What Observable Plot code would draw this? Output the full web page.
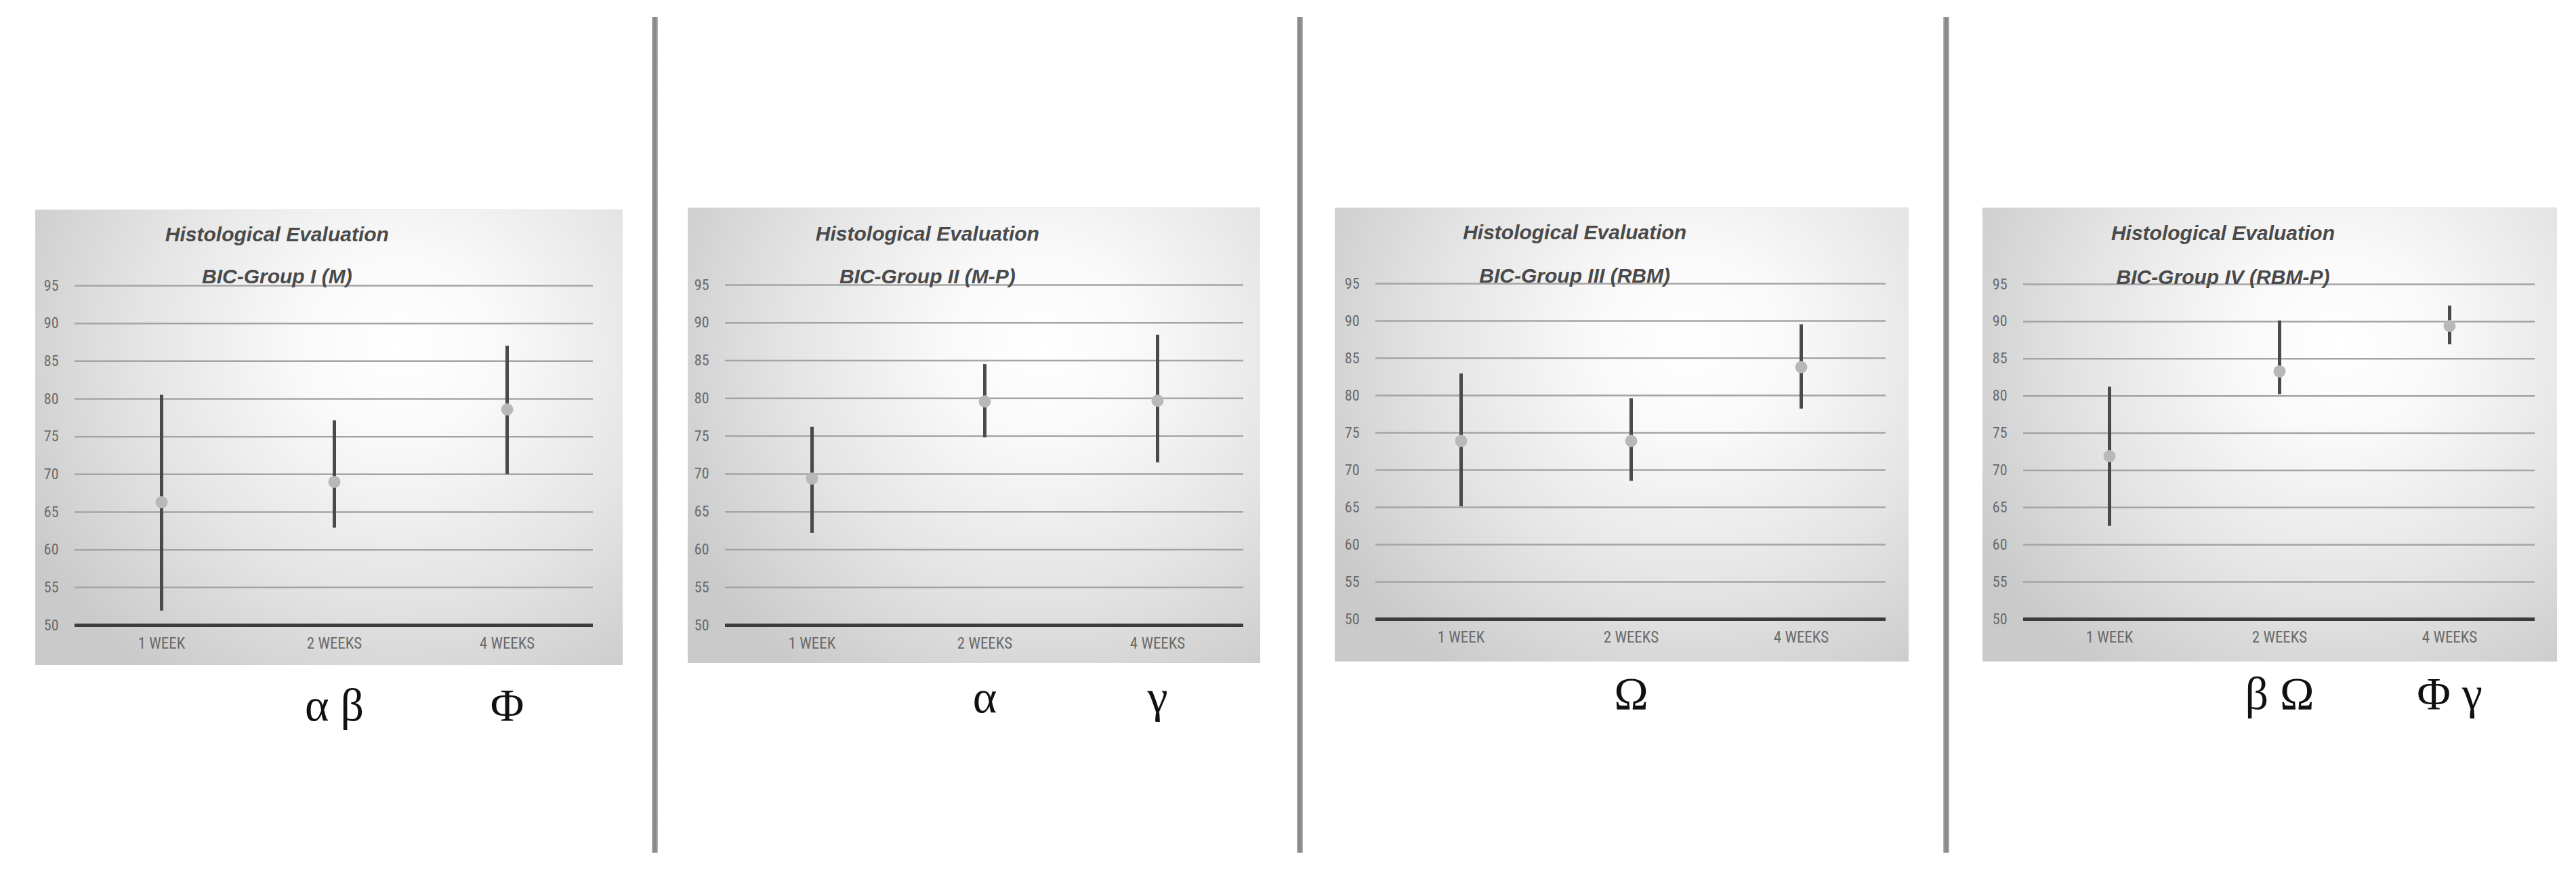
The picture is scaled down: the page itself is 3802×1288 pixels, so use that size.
<!DOCTYPE html>
<html><head><meta charset="utf-8">
<script src="https://cdn.jsdelivr.net/npm/d3@7"></script>
<script src="https://cdn.jsdelivr.net/npm/@observablehq/plot@0.6"></script>
<style>
html,body{margin:0;padding:0;background:#fff;width:3802px;height:1288px;overflow:hidden;position:relative}
.panel{position:absolute}
.box{position:absolute;left:0;top:0;background:radial-gradient(ellipse 72% 88% at 62% 30%, #ffffff 0%, #f9f9f9 24%, #e4e4e4 62%, #cacaca 100%);border-top:1px solid #e6e6e6}
.panel svg{position:absolute;left:0;top:0;overflow:visible}
.sep{position:absolute;top:25px;height:1233px;width:9px;background:linear-gradient(to right,#bdbdbd,#8a8a8a 30%,#8a8a8a 70%,#bdbdbd)}
</style></head><body>
<script>
// ---- data ----
const weeks = ["1 WEEK", "2 WEEKS", "4 WEEKS"];
const yTicks = [50, 55, 60, 65, 70, 75, 80, 85, 90, 95];
const chartTitle = "Histological Evaluation";
const groupNames = ["BIC-Group I (M)", "BIC-Group II (M-P)", "BIC-Group III (RBM)", "BIC-Group IV (RBM-P)"];

const g1Mean = [66.3, 69.0, 78.6];
const g1Low  = [51.9, 62.9, 70.0];
const g1High = [80.5, 77.1, 87.0];
const g1Sig  = ["", "α β", "Φ"];

const g2Mean = [69.4, 79.6, 79.7];
const g2Low  = [62.2, 74.8, 71.5];
const g2High = [76.2, 84.5, 88.4];
const g2Sig  = ["", "α", "γ"];

const g3Mean = [73.9, 73.9, 83.8];
const g3Low  = [65.1, 68.5, 78.2];
const g3High = [82.9, 79.6, 89.5];
const g3Sig  = ["", "Ω", ""];

const g4Mean = [71.9, 83.3, 89.4];
const g4Low  = [62.5, 80.2, 86.9];
const g4High = [81.2, 90.1, 92.1];
const g4Sig  = ["", "β Ω", "Φ γ"];

// ---- layout ----
const panels = [
  {name: groupNames[0], mean: g1Mean, low: g1Low, high: g1High, sig: g1Sig,
   left: 52, top: 309, width: 867, boxH: 671, mt: 112, plotBottom: 613, ml: 58, mr: 44, greekDy: 140, subDy: -4},
  {name: groupNames[1], mean: g2Mean, low: g2Low, high: g2High, sig: g2Sig,
   left: 1015, top: 306, width: 845, boxH: 671, mt: 114, plotBottom: 616, ml: 55, mr: 25, greekDy: 128, subDy: -3},
  {name: groupNames[2], mean: g3Mean, low: g3Low, high: g3High, sig: g3Sig,
   left: 1970, top: 306, width: 847, boxH: 669, mt: 112, plotBottom: 607, ml: 60, mr: 34, greekDy: 132, subDy: -2},
  {name: groupNames[3], mean: g4Mean, low: g4Low, high: g4High, sig: g4Sig,
   left: 2926, top: 306, width: 848, boxH: 669, mt: 113, plotBottom: 607, ml: 60, mr: 33, greekDy: 132, subDy: -1}
];
const separators = [966, 1918, 2872];
const H = 790;
const axisFont = "'Liberation Sans Narrow', 'Roboto Condensed', Roboto, sans-serif";

function chart(p) {
  const rows = weeks.map((w, i) => ({week: w, mean: p.mean[i], low: p.low[i], high: p.high[i], sig: p.sig[i]}));
  const plotW = p.width - p.ml - p.mr;
  const titleDx = -0.11 * plotW;
  return Plot.plot({
    width: p.width, height: H,
    marginTop: p.mt, marginBottom: H - p.plotBottom, marginLeft: p.ml, marginRight: p.mr,
    style: {background: "transparent", overflow: "visible"},
    x: {type: "point", domain: weeks, padding: 0.5},
    y: {domain: [50, 95]},
    marks: [
      Plot.ruleY(yTicks.filter(d => d > 50), {stroke: "#a4a4a4", strokeWidth: 2.5}),
      Plot.ruleY([50], {stroke: "#3c3c3c", strokeWidth: 5}),
      Plot.axisY({ticks: yTicks, tickSize: 0, tickPadding: 24, fontSize: 22, fontFamily: axisFont, color: "#6a6a6a", label: null}),
      Plot.axisX({tickSize: 0, tickPadding: 18, fontSize: 23, fontFamily: axisFont, color: "#6a6a6a", label: null}),
      Plot.ruleX(rows, {x: "week", y1: "low", y2: "high", stroke: "#4a4a4a", strokeWidth: 5}),
      Plot.dot(rows, {x: "week", y: "mean", r: 9, fill: "#b8b8b8", stroke: "none"}),
      Plot.text([chartTitle], {frameAnchor: "top", dx: titleDx, dy: -66, lineAnchor: "bottom",
        fontSize: 30, fontWeight: "bold", fontStyle: "italic", fontFamily: "'Liberation Sans', Arial, sans-serif", fill: "#4a4a4a"}),
      Plot.text([p.name], {frameAnchor: "top", dx: titleDx, dy: p.subDy, lineAnchor: "bottom",
        fontSize: 30, fontWeight: "bold", fontStyle: "italic", fontFamily: "'Liberation Sans', Arial, sans-serif", fill: "#4a4a4a"}),
      Plot.text(rows.filter(r => r.sig), {x: "week", text: "sig", frameAnchor: "bottom", dy: p.greekDy, lineAnchor: "bottom",
        fontSize: 68, fontFamily: "'Liberation Serif', 'DejaVu Serif', serif", fill: "#111"})
    ]
  });
}

for (const p of panels) {
  const div = document.createElement("div");
  div.className = "panel";
  div.style.left = p.left + "px";
  div.style.top = p.top + "px";
  div.style.width = p.width + "px";
  div.style.height = H + "px";
  const box = document.createElement("div");
  box.className = "box";
  box.style.width = p.width + "px";
  box.style.height = p.boxH + "px";
  div.appendChild(box);
  div.appendChild(chart(p));
  document.body.appendChild(div);
}
for (const x of separators) {
  const s = document.createElement("div");
  s.className = "sep";
  s.style.left = (x - 4) + "px";
  document.body.appendChild(s);
}
</script>
</body></html>
